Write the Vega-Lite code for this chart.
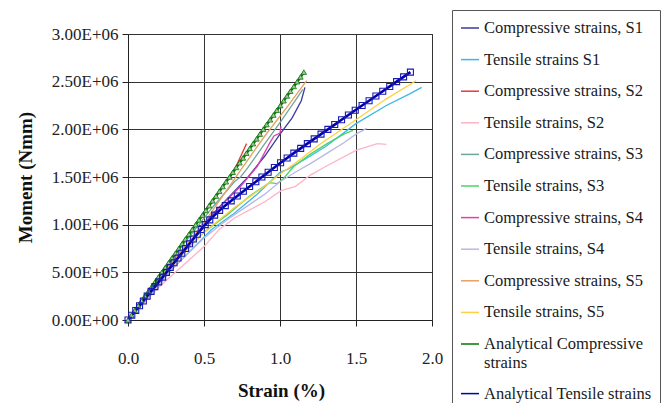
{
  "$schema": "https://vega.github.io/schema/vega-lite/v6.json",
  "width": 304,
  "height": 286,
  "autosize": {"type": "none"},
  "padding": {"left": 128, "top": 34, "right": 234, "bottom": 83},
  "background": "white",
  "config": {
    "font": "Liberation Serif",
    "view": {"stroke": "#333"},
    "axis": {
      "labelFont": "Liberation Serif",
      "titleFont": "Liberation Serif",
      "labelFontSize": 17,
      "titleFontSize": 19,
      "titleFontWeight": "bold",
      "labelColor": "#222",
      "titleColor": "#111",
      "gridColor": "#333",
      "gridOpacity": 1,
      "gridWidth": 1,
      "domainColor": "#222",
      "tickColor": "#222",
      "tickSize": 6,
      "labelFlush": false
    },
    "legend": {
      "labelFont": "Liberation Serif",
      "labelFontSize": 16.5,
      "labelColor": "#1a1a1a"
    }
  },
  "data": {
    "values": [
      {"series": "Compressive strains, S1", "x": 0, "y": 0},
      {"series": "Compressive strains, S1", "x": 0.3, "y": 600000},
      {"series": "Compressive strains, S1", "x": 0.55, "y": 1100000},
      {"series": "Compressive strains, S1", "x": 0.79, "y": 1500000},
      {"series": "Compressive strains, S1", "x": 0.9, "y": 1720000},
      {"series": "Compressive strains, S1", "x": 1.0, "y": 1950000},
      {"series": "Compressive strains, S1", "x": 1.08, "y": 2120000},
      {"series": "Compressive strains, S1", "x": 1.14, "y": 2300000},
      {"series": "Compressive strains, S1", "x": 1.164, "y": 2440000},

      {"series": "Tensile strains S1", "x": 0, "y": 0},
      {"series": "Tensile strains S1", "x": 0.3, "y": 550000},
      {"series": "Tensile strains S1", "x": 0.55, "y": 950000},
      {"series": "Tensile strains S1", "x": 0.7, "y": 1120000},
      {"series": "Tensile strains S1", "x": 0.85, "y": 1320000},
      {"series": "Tensile strains S1", "x": 1.0, "y": 1550000},
      {"series": "Tensile strains S1", "x": 1.05, "y": 1580000},
      {"series": "Tensile strains S1", "x": 1.2, "y": 1720000},
      {"series": "Tensile strains S1", "x": 1.3, "y": 1820000},
      {"series": "Tensile strains S1", "x": 1.5, "y": 2060000},
      {"series": "Tensile strains S1", "x": 1.7, "y": 2250000},
      {"series": "Tensile strains S1", "x": 1.85, "y": 2370000},
      {"series": "Tensile strains S1", "x": 1.932, "y": 2440000},

      {"series": "Compressive strains, S2", "x": 0, "y": 0},
      {"series": "Compressive strains, S2", "x": 0.2, "y": 450000},
      {"series": "Compressive strains, S2", "x": 0.4, "y": 900000},
      {"series": "Compressive strains, S2", "x": 0.6, "y": 1350000},
      {"series": "Compressive strains, S2", "x": 0.69, "y": 1540000},
      {"series": "Compressive strains, S2", "x": 0.78, "y": 1850000},

      {"series": "Tensile strains, S2", "x": 0, "y": 0},
      {"series": "Tensile strains, S2", "x": 0.2, "y": 340000},
      {"series": "Tensile strains, S2", "x": 0.5, "y": 770000},
      {"series": "Tensile strains, S2", "x": 0.6, "y": 950000},
      {"series": "Tensile strains, S2", "x": 0.7, "y": 1070000},
      {"series": "Tensile strains, S2", "x": 0.9, "y": 1240000},
      {"series": "Tensile strains, S2", "x": 1.01, "y": 1360000},
      {"series": "Tensile strains, S2", "x": 1.1, "y": 1400000},
      {"series": "Tensile strains, S2", "x": 1.2, "y": 1520000},
      {"series": "Tensile strains, S2", "x": 1.3, "y": 1610000},
      {"series": "Tensile strains, S2", "x": 1.5, "y": 1780000},
      {"series": "Tensile strains, S2", "x": 1.64, "y": 1850000},
      {"series": "Tensile strains, S2", "x": 1.7, "y": 1843000},

      {"series": "Compressive strains, S3", "x": 0, "y": 0},
      {"series": "Compressive strains, S3", "x": 0.3, "y": 660000},
      {"series": "Compressive strains, S3", "x": 0.55, "y": 1170000},
      {"series": "Compressive strains, S3", "x": 0.7, "y": 1450000},
      {"series": "Compressive strains, S3", "x": 0.74, "y": 1500000},
      {"series": "Compressive strains, S3", "x": 0.78, "y": 1580000},
      {"series": "Compressive strains, S3", "x": 0.9, "y": 1850000},
      {"series": "Compressive strains, S3", "x": 1.0, "y": 2070000},
      {"series": "Compressive strains, S3", "x": 1.1, "y": 2300000},
      {"series": "Compressive strains, S3", "x": 1.15, "y": 2420000},

      {"series": "Tensile strains, S3", "x": 0, "y": 0},
      {"series": "Tensile strains, S3", "x": 0.3, "y": 600000},
      {"series": "Tensile strains, S3", "x": 0.5, "y": 920000},
      {"series": "Tensile strains, S3", "x": 0.65, "y": 1100000},
      {"series": "Tensile strains, S3", "x": 0.8, "y": 1300000},
      {"series": "Tensile strains, S3", "x": 0.93, "y": 1440000},
      {"series": "Tensile strains, S3", "x": 0.98, "y": 1430000},
      {"series": "Tensile strains, S3", "x": 1.02, "y": 1480000},
      {"series": "Tensile strains, S3", "x": 1.09, "y": 1610000},
      {"series": "Tensile strains, S3", "x": 1.2, "y": 1740000},
      {"series": "Tensile strains, S3", "x": 1.31, "y": 1850000},
      {"series": "Tensile strains, S3", "x": 1.42, "y": 1950000},
      {"series": "Tensile strains, S3", "x": 1.48, "y": 1990000},

      {"series": "Compressive strains, S4", "x": 0, "y": 0},
      {"series": "Compressive strains, S4", "x": 0.3, "y": 620000},
      {"series": "Compressive strains, S4", "x": 0.5, "y": 1000000},
      {"series": "Compressive strains, S4", "x": 0.65, "y": 1260000},
      {"series": "Compressive strains, S4", "x": 0.74, "y": 1400000},
      {"series": "Compressive strains, S4", "x": 0.85, "y": 1610000},
      {"series": "Compressive strains, S4", "x": 0.93, "y": 1850000},
      {"series": "Compressive strains, S4", "x": 0.96, "y": 1930000},
      {"series": "Compressive strains, S4", "x": 1.0, "y": 1960000},
      {"series": "Compressive strains, S4", "x": 1.007, "y": 2030000},

      {"series": "Tensile strains, S4", "x": 0, "y": 0},
      {"series": "Tensile strains, S4", "x": 0.3, "y": 550000},
      {"series": "Tensile strains, S4", "x": 0.5, "y": 860000},
      {"series": "Tensile strains, S4", "x": 0.65, "y": 1050000},
      {"series": "Tensile strains, S4", "x": 0.9, "y": 1320000},
      {"series": "Tensile strains, S4", "x": 1.0, "y": 1450000},
      {"series": "Tensile strains, S4", "x": 1.1, "y": 1550000},
      {"series": "Tensile strains, S4", "x": 1.2, "y": 1640000},
      {"series": "Tensile strains, S4", "x": 1.3, "y": 1740000},
      {"series": "Tensile strains, S4", "x": 1.42, "y": 1860000},
      {"series": "Tensile strains, S4", "x": 1.5, "y": 1950000},
      {"series": "Tensile strains, S4", "x": 1.57, "y": 2010000},

      {"series": "Compressive strains, S5", "x": 0, "y": 0},
      {"series": "Compressive strains, S5", "x": 0.3, "y": 620000},
      {"series": "Compressive strains, S5", "x": 0.5, "y": 1020000},
      {"series": "Compressive strains, S5", "x": 0.74, "y": 1570000},
      {"series": "Compressive strains, S5", "x": 0.9, "y": 1930000},
      {"series": "Compressive strains, S5", "x": 1.05, "y": 2240000},
      {"series": "Compressive strains, S5", "x": 1.175, "y": 2510000},

      {"series": "Tensile strains, S5", "x": 0, "y": 0},
      {"series": "Tensile strains, S5", "x": 0.3, "y": 580000},
      {"series": "Tensile strains, S5", "x": 0.5, "y": 920000},
      {"series": "Tensile strains, S5", "x": 0.7, "y": 1180000},
      {"series": "Tensile strains, S5", "x": 0.87, "y": 1370000},
      {"series": "Tensile strains, S5", "x": 1.01, "y": 1540000},
      {"series": "Tensile strains, S5", "x": 1.13, "y": 1680000},
      {"series": "Tensile strains, S5", "x": 1.26, "y": 1840000},
      {"series": "Tensile strains, S5", "x": 1.5, "y": 2100000},
      {"series": "Tensile strains, S5", "x": 1.7, "y": 2320000},
      {"series": "Tensile strains, S5", "x": 1.895, "y": 2510000},

      {"series": "Analytical Compressive strains", "x": 0, "y": 0},
      {"series": "Analytical Compressive strains", "x": 0.022, "y": 50000},
      {"series": "Analytical Compressive strains", "x": 0.045, "y": 100000},
      {"series": "Analytical Compressive strains", "x": 0.067, "y": 150000},
      {"series": "Analytical Compressive strains", "x": 0.089, "y": 200000},
      {"series": "Analytical Compressive strains", "x": 0.111, "y": 250000},
      {"series": "Analytical Compressive strains", "x": 0.134, "y": 300000},
      {"series": "Analytical Compressive strains", "x": 0.156, "y": 350000},
      {"series": "Analytical Compressive strains", "x": 0.178, "y": 400000},
      {"series": "Analytical Compressive strains", "x": 0.2, "y": 450000},
      {"series": "Analytical Compressive strains", "x": 0.223, "y": 500000},
      {"series": "Analytical Compressive strains", "x": 0.245, "y": 550000},
      {"series": "Analytical Compressive strains", "x": 0.267, "y": 600000},
      {"series": "Analytical Compressive strains", "x": 0.289, "y": 650000},
      {"series": "Analytical Compressive strains", "x": 0.312, "y": 700000},
      {"series": "Analytical Compressive strains", "x": 0.334, "y": 750000},
      {"series": "Analytical Compressive strains", "x": 0.356, "y": 800000},
      {"series": "Analytical Compressive strains", "x": 0.378, "y": 850000},
      {"series": "Analytical Compressive strains", "x": 0.401, "y": 900000},
      {"series": "Analytical Compressive strains", "x": 0.423, "y": 950000},
      {"series": "Analytical Compressive strains", "x": 0.445, "y": 1000000},
      {"series": "Analytical Compressive strains", "x": 0.467, "y": 1050000},
      {"series": "Analytical Compressive strains", "x": 0.49, "y": 1100000},
      {"series": "Analytical Compressive strains", "x": 0.512, "y": 1150000},
      {"series": "Analytical Compressive strains", "x": 0.534, "y": 1200000},
      {"series": "Analytical Compressive strains", "x": 0.556, "y": 1250000},
      {"series": "Analytical Compressive strains", "x": 0.579, "y": 1300000},
      {"series": "Analytical Compressive strains", "x": 0.601, "y": 1350000},
      {"series": "Analytical Compressive strains", "x": 0.623, "y": 1400000},
      {"series": "Analytical Compressive strains", "x": 0.645, "y": 1450000},
      {"series": "Analytical Compressive strains", "x": 0.668, "y": 1500000},
      {"series": "Analytical Compressive strains", "x": 0.69, "y": 1550000},
      {"series": "Analytical Compressive strains", "x": 0.712, "y": 1600000},
      {"series": "Analytical Compressive strains", "x": 0.734, "y": 1650000},
      {"series": "Analytical Compressive strains", "x": 0.757, "y": 1700000},
      {"series": "Analytical Compressive strains", "x": 0.779, "y": 1750000},
      {"series": "Analytical Compressive strains", "x": 0.801, "y": 1800000},
      {"series": "Analytical Compressive strains", "x": 0.823, "y": 1850000},
      {"series": "Analytical Compressive strains", "x": 0.846, "y": 1900000},
      {"series": "Analytical Compressive strains", "x": 0.868, "y": 1950000},
      {"series": "Analytical Compressive strains", "x": 0.89, "y": 2000000},
      {"series": "Analytical Compressive strains", "x": 0.912, "y": 2050000},
      {"series": "Analytical Compressive strains", "x": 0.935, "y": 2100000},
      {"series": "Analytical Compressive strains", "x": 0.957, "y": 2150000},
      {"series": "Analytical Compressive strains", "x": 0.979, "y": 2200000},
      {"series": "Analytical Compressive strains", "x": 1.002, "y": 2250000},
      {"series": "Analytical Compressive strains", "x": 1.024, "y": 2300000},
      {"series": "Analytical Compressive strains", "x": 1.046, "y": 2350000},
      {"series": "Analytical Compressive strains", "x": 1.068, "y": 2400000},
      {"series": "Analytical Compressive strains", "x": 1.091, "y": 2450000},
      {"series": "Analytical Compressive strains", "x": 1.113, "y": 2500000},
      {"series": "Analytical Compressive strains", "x": 1.135, "y": 2550000},
      {"series": "Analytical Compressive strains", "x": 1.157, "y": 2600000},

      {"series": "Analytical Tensile strains", "x": 0, "y": 0},
      {"series": "Analytical Tensile strains", "x": 0.025, "y": 50000},
      {"series": "Analytical Tensile strains", "x": 0.051, "y": 100000},
      {"series": "Analytical Tensile strains", "x": 0.076, "y": 150000},
      {"series": "Analytical Tensile strains", "x": 0.101, "y": 200000},
      {"series": "Analytical Tensile strains", "x": 0.126, "y": 250000},
      {"series": "Analytical Tensile strains", "x": 0.152, "y": 300000},
      {"series": "Analytical Tensile strains", "x": 0.177, "y": 350000},
      {"series": "Analytical Tensile strains", "x": 0.202, "y": 400000},
      {"series": "Analytical Tensile strains", "x": 0.228, "y": 450000},
      {"series": "Analytical Tensile strains", "x": 0.253, "y": 500000},
      {"series": "Analytical Tensile strains", "x": 0.278, "y": 550000},
      {"series": "Analytical Tensile strains", "x": 0.303, "y": 600000},
      {"series": "Analytical Tensile strains", "x": 0.329, "y": 650000},
      {"series": "Analytical Tensile strains", "x": 0.354, "y": 700000},
      {"series": "Analytical Tensile strains", "x": 0.379, "y": 750000},
      {"series": "Analytical Tensile strains", "x": 0.405, "y": 800000},
      {"series": "Analytical Tensile strains", "x": 0.43, "y": 850000},
      {"series": "Analytical Tensile strains", "x": 0.456, "y": 900000},
      {"series": "Analytical Tensile strains", "x": 0.482, "y": 950000},
      {"series": "Analytical Tensile strains", "x": 0.508, "y": 1000000},
      {"series": "Analytical Tensile strains", "x": 0.538, "y": 1050000},
      {"series": "Analytical Tensile strains", "x": 0.57, "y": 1100000},
      {"series": "Analytical Tensile strains", "x": 0.603, "y": 1150000},
      {"series": "Analytical Tensile strains", "x": 0.64, "y": 1200000},
      {"series": "Analytical Tensile strains", "x": 0.679, "y": 1250000},
      {"series": "Analytical Tensile strains", "x": 0.719, "y": 1300000},
      {"series": "Analytical Tensile strains", "x": 0.759, "y": 1350000},
      {"series": "Analytical Tensile strains", "x": 0.8, "y": 1400000},
      {"series": "Analytical Tensile strains", "x": 0.841, "y": 1450000},
      {"series": "Analytical Tensile strains", "x": 0.881, "y": 1500000},
      {"series": "Analytical Tensile strains", "x": 0.922, "y": 1550000},
      {"series": "Analytical Tensile strains", "x": 0.963, "y": 1600000},
      {"series": "Analytical Tensile strains", "x": 1.004, "y": 1650000},
      {"series": "Analytical Tensile strains", "x": 1.047, "y": 1700000},
      {"series": "Analytical Tensile strains", "x": 1.091, "y": 1750000},
      {"series": "Analytical Tensile strains", "x": 1.136, "y": 1800000},
      {"series": "Analytical Tensile strains", "x": 1.18, "y": 1850000},
      {"series": "Analytical Tensile strains", "x": 1.225, "y": 1900000},
      {"series": "Analytical Tensile strains", "x": 1.27, "y": 1950000},
      {"series": "Analytical Tensile strains", "x": 1.315, "y": 2000000},
      {"series": "Analytical Tensile strains", "x": 1.36, "y": 2050000},
      {"series": "Analytical Tensile strains", "x": 1.405, "y": 2100000},
      {"series": "Analytical Tensile strains", "x": 1.45, "y": 2150000},
      {"series": "Analytical Tensile strains", "x": 1.495, "y": 2200000},
      {"series": "Analytical Tensile strains", "x": 1.54, "y": 2250000},
      {"series": "Analytical Tensile strains", "x": 1.586, "y": 2300000},
      {"series": "Analytical Tensile strains", "x": 1.631, "y": 2350000},
      {"series": "Analytical Tensile strains", "x": 1.676, "y": 2400000},
      {"series": "Analytical Tensile strains", "x": 1.722, "y": 2450000},
      {"series": "Analytical Tensile strains", "x": 1.767, "y": 2500000},
      {"series": "Analytical Tensile strains", "x": 1.813, "y": 2550000},
      {"series": "Analytical Tensile strains", "x": 1.858, "y": 2600000}
    ]
  },
  "encoding": {
    "x": {
      "field": "x",
      "type": "quantitative",
      "scale": {"domain": [0, 2], "nice": false},
      "axis": {
        "title": "Strain (%)",
        "values": [0, 0.5, 1, 1.5, 2],
        "format": ".1f",
        "labelPadding": 24,
        "titleX": 153,
        "titleY": 70,
        "titleBaseline": "middle",
        "titleAlign": "center"
      }
    },
    "y": {
      "field": "y",
      "type": "quantitative",
      "scale": {"domain": [0, 3000000], "nice": false},
      "axis": {
        "title": "Moment (Nmm)",
        "values": [0, 500000, 1000000, 1500000, 2000000, 2500000, 3000000],
        "labelExpr": "datum.value == 0 ? '0.00E+00' : replace(replace(upper(format(datum.value, '.2e')), 'E+6', 'E+06'), 'E+5', 'E+05')",
        "labelPadding": 4,
        "titleX": -103,
        "titleY": 143,
        "titleAngle": -90,
        "titleBaseline": "middle",
        "titleAlign": "center"
      }
    }
  },
  "layer": [
    {
      "transform": [{"filter": "indexof(datum.series, 'Analytical') < 0"}],
      "mark": {"type": "line", "strokeWidth": 1.3},
      "encoding": {
        "color": {
          "field": "series",
          "type": "nominal",
          "scale": {
            "domain": [
              "Compressive strains, S1", "Tensile strains S1",
              "Compressive strains, S2", "Tensile strains, S2",
              "Compressive strains, S3", "Tensile strains, S3",
              "Compressive strains, S4", "Tensile strains, S4",
              "Compressive strains, S5", "Tensile strains, S5",
              "Analytical Compressive strains", "Analytical Tensile strains"
            ],
            "range": [
              "#3a3aa0", "#3cb8e8",
              "#e03c3c", "#ffb3c6",
              "#6fa89a", "#4cd46a",
              "#e040b0", "#b8b8e6",
              "#e8a060", "#ffd040",
              "#007a00", "#0000b0"
            ]
          },
          "legend": {
            "title": null,
            "orient": "none",
            "legendX": 324,
            "legendY": -24,
            "strokeColor": "#555",
            "fillColor": "white",
            "padding": 8,
            "symbolType": "stroke",
            "symbolSize": 324,
            "symbolStrokeWidth": 1.5,
            "labelOffset": 4,
            "rowPadding": 12.6,
            "labelLimit": 300,
            "labelExpr": "datum.label == 'Analytical Compressive strains' ? ['Analytical Compressive', 'strains'] : datum.label"
          }
        }
      }
    },
    {
      "transform": [{"filter": "indexof(datum.series, 'Analytical') >= 0"}],
      "mark": {"type": "line", "strokeWidth": 2.6},
      "encoding": {"color": {"field": "series", "type": "nominal"}}
    },
    {
      "transform": [{"filter": "datum.series == 'Analytical Compressive strains'"}],
      "mark": {"type": "point", "shape": "triangle-up", "filled": true, "fill": "#a8c0a0", "stroke": "#0a7a0a", "strokeWidth": 0.8, "size": 28, "opacity": 1},
      "encoding": {}
    },
    {
      "transform": [{"filter": "datum.series == 'Analytical Tensile strains'"}],
      "mark": {"type": "point", "shape": "square", "filled": false, "stroke": "#1a1ab0", "strokeWidth": 1.1, "size": 36, "opacity": 1},
      "encoding": {}
    }
  ]
}
